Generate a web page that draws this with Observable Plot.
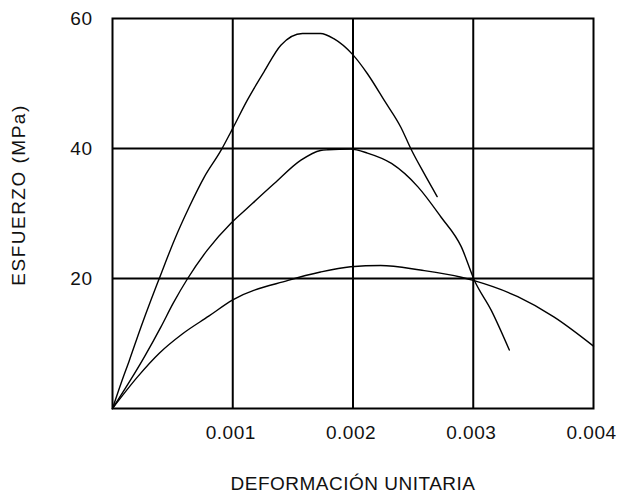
<!DOCTYPE html>
<html>
<head>
<meta charset="utf-8">
<script src="https://cdn.jsdelivr.net/npm/d3@7"></script>
<script src="https://cdn.jsdelivr.net/npm/@observablehq/plot@0.6"></script>
<style>
  html, body { margin: 0; padding: 0; background: #fff; }
</style>
</head>
<body>
<div id="chart"></div>
<script>
// Series A (highest peak)
const strainA = [0, 0.0000707, 0.00014, 0.000237, 0.00032, 0.000389, 0.000514, 0.000638, 0.000763, 0.000902, 0.001, 0.00112, 0.00126, 0.0014, 0.00158, 0.00173, 0.00184, 0.002, 0.00212, 0.00226, 0.0024, 0.00248, 0.00259, 0.0027];
const stressA = [0, 3.85, 7.4, 12.55, 16.7, 20, 25.9, 31.0, 35.6, 39.7, 43.1, 47.4, 51.8, 55.9, 57.7, 57.7, 56.9, 54.4, 51.5, 47.4, 43.2, 40, 36.2, 32.6];
// Series B (middle peak)
const strainB = [0, 0.000264, 0.000403, 0.000505, 0.000625, 0.00079, 0.000985, 0.00112, 0.001345, 0.001567, 0.00173, 0.00179, 0.00198, 0.00212, 0.00232, 0.00254, 0.00273, 0.0029, 0.00301, 0.00315, 0.0033];
const stressB = [0, 7.9, 12.55, 16.2, 20, 24.4, 28.5, 30.8, 34.6, 38.2, 39.7, 39.8, 39.9, 39.3, 37.7, 34.1, 29.5, 24.9, 19.7, 15.1, 9.0];
// Series C (lowest peak)
const strainC = [0, 0.00021, 0.000389, 0.000583, 0.0008, 0.001, 0.00146, 0.00173, 0.00198, 0.00223, 0.00256, 0.0029, 0.003, 0.00337, 0.00367, 0.004];
const stressC = [0, 4.9, 8.5, 11.5, 14.2, 16.7, 19.7, 21.0, 21.8, 22.0, 21.3, 20.2, 19.7, 17.2, 14.1, 9.6];

const xTicks = [0.001, 0.002, 0.003, 0.004];
const xTickLabels = ["0.001", "0.002", "0.003", "0.004"];
const yTicks = [20, 40, 60];
const yTickLabels = ["20", "40", "60"];
const xGrid = [0.001, 0.002, 0.003];
const yGrid = [20, 40];
const xTitle = "DEFORMACIÓN UNITARIA";
const yTitle = "ESFUERZO (MPa)";

const toRows = (xs, ys, s) => xs.map((x, i) => ({x, y: ys[i], s}));
const rows = [
  ...toRows(strainA, stressA, "A"),
  ...toRows(strainB, stressB, "B"),
  ...toRows(strainC, stressC, "C")
];

const chart = Plot.plot({
  width: 620,
  height: 496,
  marginLeft: 112,
  marginRight: 27,
  marginTop: 18,
  marginBottom: 88,
  style: {fontFamily: "'Liberation Sans', Arial, sans-serif", fontSize: "19px", color: "#111", background: "#fff", letterSpacing: "0.5px"},
  x: {domain: [0, 0.004]},
  y: {domain: [0, 60]},
  marks: [
    Plot.ruleX(xGrid, {stroke: "#000", strokeWidth: 2}),
    Plot.ruleY(yGrid, {stroke: "#000", strokeWidth: 2}),
    Plot.frame({stroke: "#000", strokeWidth: 2}),
    Plot.line(rows, {x: "x", y: "y", z: "s", stroke: "#000", strokeWidth: 1.4, curve: "monotone-x"}),
    Plot.axisX(xTicks, {tickSize: 0, tickPadding: 17, dx: -2, tickFormat: (d, i) => xTickLabels[i], label: null, fontSize: 19}),
    Plot.axisY(yTicks, {tickSize: 0, tickPadding: 20, tickFormat: (d, i) => yTickLabels[i], label: null, fontSize: 19}),
    Plot.text([xTitle], {frameAnchor: "bottom", textAnchor: "middle", lineAnchor: "middle", dy: 75.5, fontSize: 19, fill: "#111"}),
    Plot.text([yTitle], {frameAnchor: "left", textAnchor: "middle", lineAnchor: "middle", rotate: -90, dx: -93.5, dy: -18.5, fontSize: 19, fill: "#111"})
  ]
});
d3.select(chart).selectAll("text").filter(function () { return this.textContent === yTitle; })
  .style("letter-spacing", "1.5px");
document.getElementById("chart").appendChild(chart);
</script>
</body>
</html>
